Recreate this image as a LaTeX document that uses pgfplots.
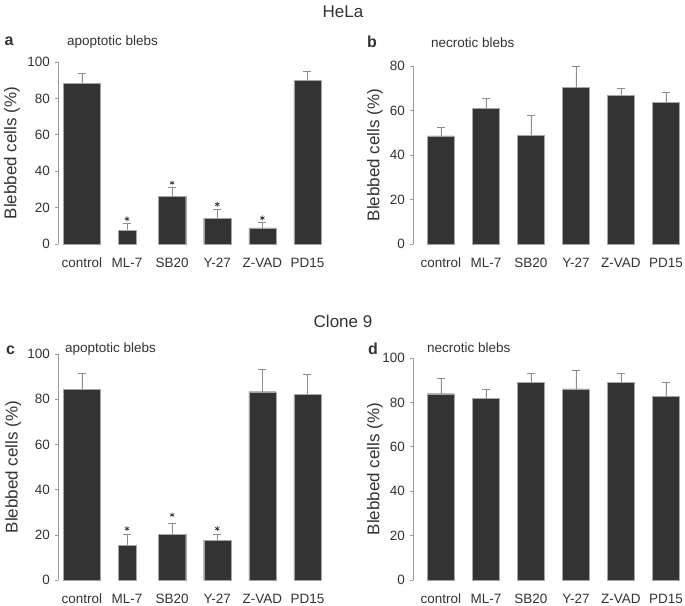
\documentclass[border=0pt]{standalone}
\usepackage{pgfplots}
\pgfplotsset{compat=1.18}
\usepackage{fontspec}
\setmainfont{Liberation Sans}
\definecolor{barc}{HTML}{333333}
\definecolor{txt}{HTML}{333333}
\definecolor{errc}{HTML}{8C8C8C}
\definecolor{axc}{HTML}{9A9A9A}
\pgfplotsset{
 panel/.style={
  scale only axis, anchor=south west,
  axis y line*=left, axis x line*=bottom,
  x axis line style={draw=none},
  y axis line style={draw=axc, line width=0.6pt},
  xtick={0,...,5}, xticklabels={control,ML-7,SB20,Y-27,Z-VAD,PD15},
  xtick style={draw=none},
  ymin=0,
  ytick style={draw=axc, line width=0.6pt},
  tick align=outside, major tick length=3pt,
  /pgf/number format/assume math mode=true,
  yticklabel style={font=\fontsize{13.5}{15}\selectfont, text=txt, xshift=-1.5pt},
  xticklabel style={font=\fontsize{13.5}{15}\selectfont, text=txt, anchor=base, yshift=-20.5pt},
  ylabel={Blebbed cells (\%)},
  ylabel style={font=\fontsize{17}{19}\selectfont, text=txt, anchor=center},
  clip=false,
 },
 bars/.style={ybar, bar shift=0pt, fill=barc, draw=gray!70, line width=0.3pt,
   error bars/y dir=plus, error bars/y explicit,
   error bars/error bar style={errc, line width=0.6pt},
   error bars/error mark options={errc, line width=0.6pt, mark size=4pt, rotate=90}},
 star/.style={only marks, mark=asterisk, mark size=2.5pt, mark options={txt, line width=0.7pt}},
}
\begin{document}
\begin{tikzpicture}[x=1pt,y=1pt]
\useasboundingbox (0,0) rectangle (685,605);
% titles
\node[font=\fontsize{17}{19}\selectfont, text=txt, anchor=base] at (343,587) {HeLa};
\node[font=\fontsize{17}{19}\selectfont, text=txt, anchor=base] at (343,277) {Clone 9};
\node[font=\fontsize{16}{18}\selectfont\bfseries, text=txt, anchor=base] at (9,559) {a};
\node[font=\fontsize{13.5}{15}\selectfont, text=txt, anchor=base west, inner sep=0] at (67,559) {apoptotic blebs};
\node[font=\fontsize{16}{18}\selectfont\bfseries, text=txt, anchor=base] at (372,557) {b};
\node[font=\fontsize{13.5}{15}\selectfont, text=txt, anchor=base west, inner sep=0] at (431,557) {necrotic blebs};
\node[font=\fontsize{16}{18}\selectfont\bfseries, text=txt, anchor=base] at (10.5,250) {c};
\node[font=\fontsize{13.5}{15}\selectfont, text=txt, anchor=base west, inner sep=0] at (65,252) {apoptotic blebs};
\node[font=\fontsize{16}{18}\selectfont\bfseries, text=txt, anchor=base] at (373,250) {d};
\node[font=\fontsize{13.5}{15}\selectfont, text=txt, anchor=base west, inner sep=0] at (427,252) {necrotic blebs};

% panel a
\begin{axis}[panel, at={(58pt,361pt)}, width=272pt, height=182pt,
  xmin=-0.53, xmax=5.5, ymax=100, ytick={0,20,...,100},
  ylabel style={at={(axis description cs:-0.169,0.5)}}]
\addplot[bar width=0.82, bars] coordinates {(0,88.5) +- (0,5.1)};
\addplot[bar width=0.4, bars] coordinates {(1,7.5) +- (0,4.0)};
\addplot[bar width=0.6, bars] coordinates {(2,26.1) +- (0,5.1) (3,14.2) +- (0,5.0) (4,8.9) +- (0,3.0) (5,90.0) +- (0,4.9)};
\addplot[star] coordinates {(1,13.8) (2,33.6) (3,21.8) (4,14.3)};
\end{axis}

% panel b
\begin{axis}[panel, at={(413pt,361pt)}, width=275pt, height=178pt,
  xmin=-0.62, xmax=5.49, ymax=80, ytick={0,20,...,80},
  ylabel style={at={(axis description cs:-0.138,0.5)}}]
\addplot[bar width=0.6, bars] coordinates {(0,48.6) +- (0,3.9) (1,61.0) +- (0,4.6) (2,48.9) +- (0,8.9) (3,70.3) +- (0,9.7) (4,66.8) +- (0,3.2) (5,63.7) +- (0,4.3)};
\end{axis}

% panel c
\begin{axis}[panel, at={(58pt,25pt)}, width=272pt, height=226pt,
  xmin=-0.53, xmax=5.5, ymax=100, ytick={0,20,...,100},
  ylabel style={at={(axis description cs:-0.165,0.5)}}]
\addplot[bar width=0.82, bars] coordinates {(0,84.3) +- (0,7.0)};
\addplot[bar width=0.4, bars] coordinates {(1,15.4) +- (0,4.7)};
\addplot[bar width=0.6, bars] coordinates {(2,20.2) +- (0,5.0) (3,17.6) +- (0,2.5) (4,83.3) +- (0,10.1) (5,82.3) +- (0,8.9)};
\addplot[star] coordinates {(1,22.7) (2,28.8) (3,22.7)};
\end{axis}

% panel d
\begin{axis}[panel, at={(413pt,25pt)}, width=275pt, height=222pt,
  xmin=-0.62, xmax=5.49, ymax=100, ytick={0,20,...,100},
  ylabel style={at={(axis description cs:-0.138,0.5)}}]
\addplot[bar width=0.6, bars] coordinates {(0,83.9) +- (0,7.1) (1,81.8) +- (0,4.3) (2,89.1) +- (0,4.2) (3,86.1) +- (0,8.2) (4,89.1) +- (0,4.2) (5,82.8) +- (0,6.3)};
\end{axis}
\end{tikzpicture}
\end{document}
